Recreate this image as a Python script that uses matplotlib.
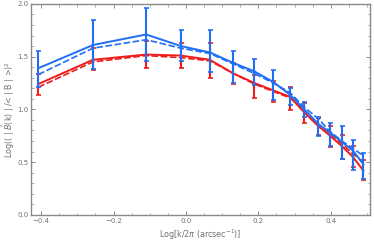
import matplotlib
matplotlib.use("Agg")
import matplotlib.pyplot as plt
from matplotlib.ticker import MultipleLocator
import numpy as np

# log k/2pi bins
logk = [-0.408, -0.257, -0.110, -0.014, 0.066, 0.131, 0.189, 0.241,
        0.287, 0.327, 0.366, 0.398, 0.431, 0.461, 0.490]

# blue set
blue_solid  = [1.39, 1.61, 1.71, 1.60, 1.54, 1.44, 1.36, 1.26, 1.14, 1.00, 0.86, 0.78, 0.69, 0.61, 0.48]
blue_dashed = [1.33, 1.58, 1.66, 1.58, 1.53, 1.43, 1.34, 1.25, 1.16, 1.02, 0.91, 0.79, 0.70, 0.63, 0.56]
blue_lo     = [1.21, 1.38, 1.46, 1.46, 1.35, 1.25, 1.23, 1.09, 1.04, 0.93, 0.75, 0.65, 0.53, 0.43, 0.34]
blue_hi     = [1.55, 1.85, 1.96, 1.75, 1.75, 1.55, 1.48, 1.37, 1.20, 1.07, 0.93, 0.87, 0.84, 0.71, 0.59]

# red set
red_solid  = [1.24, 1.47, 1.52, 1.51, 1.47, 1.34, 1.25, 1.18, 1.12, 0.97, 0.84, 0.75, 0.65, 0.55, 0.42]
red_dashed = [1.21, 1.45, 1.51, 1.49, 1.46, 1.34, 1.24, 1.17, 1.11, 0.99, 0.86, 0.77, 0.67, 0.58, 0.50]
red_lo     = [1.14, 1.37, 1.39, 1.39, 1.30, 1.24, 1.11, 1.07, 0.99, 0.87, 0.76, 0.64, 0.53, 0.45, 0.33]
red_hi     = [1.34, 1.58, 1.65, 1.63, 1.63, 1.44, 1.33, 1.27, 1.21, 1.06, 0.92, 0.84, 0.76, 0.65, 0.52]

BLUE = "#1f6ff5"
RED = "#f01c1c"
GRAY = "#8a8a8a"

fig = plt.figure(figsize=(3.74, 2.42), dpi=100)
ax = fig.add_axes([0.083, 0.112, 0.906, 0.872])

x = np.array(logk)

def draw(solid, dashed, lo, hi, col):
    solid = np.array(solid)
    yerr = [solid - np.array(lo), np.array(hi) - solid]
    ax.plot(x, dashed, color=col, lw=1.2, ls=(0, (4, 1.5)))
    ax.plot(x, solid, color=col, lw=1.4)
    ax.errorbar(x, solid, yerr=yerr, fmt="none", ecolor=col, elinewidth=1.5,
                capsize=1.8, capthick=1.2)

draw(red_solid, red_dashed, red_lo, red_hi, RED)
draw(blue_solid, blue_dashed, blue_lo, blue_hi, BLUE)

ax.set_xlim(-0.428, 0.508)
ax.set_ylim(0, 2.0)
ax.xaxis.set_major_locator(MultipleLocator(0.2))
ax.xaxis.set_minor_locator(MultipleLocator(0.05))
ax.yaxis.set_major_locator(MultipleLocator(0.5))
ax.yaxis.set_minor_locator(MultipleLocator(0.1))
ax.xaxis.set_major_formatter(plt.FuncFormatter(lambda v, p: f"{v:.1f}".replace("-", "\u2212")))
ax.yaxis.set_major_formatter(plt.FuncFormatter(lambda v, p: f"{v:.1f}"))

for s in ax.spines.values():
    s.set_color(GRAY)
    s.set_linewidth(1.0)
ax.tick_params(which="both", direction="in", top=True, right=True, color=GRAY,
               labelcolor="#707070", labelsize=5, pad=2)
ax.tick_params(which="major", length=3, width=0.7)
ax.tick_params(which="minor", length=1.8, width=0.5)

ax.set_xlabel(r"Log[k/2$\pi$ (arcsec$^{-1}$)]", fontsize=5.8, color="#707070")
ax.set_ylabel(r"Log(( | $\hat{B}$(k) | /< | B | >)$^2$", fontsize=5.8, color="#707070")
ax.xaxis.set_label_coords(0.5, -0.058)
ax.yaxis.set_label_coords(-0.042, 0.5)
ax.xaxis.label.set_va("top")
ax.yaxis.label.set_va("bottom")

fig.savefig("out.png", dpi=100)
